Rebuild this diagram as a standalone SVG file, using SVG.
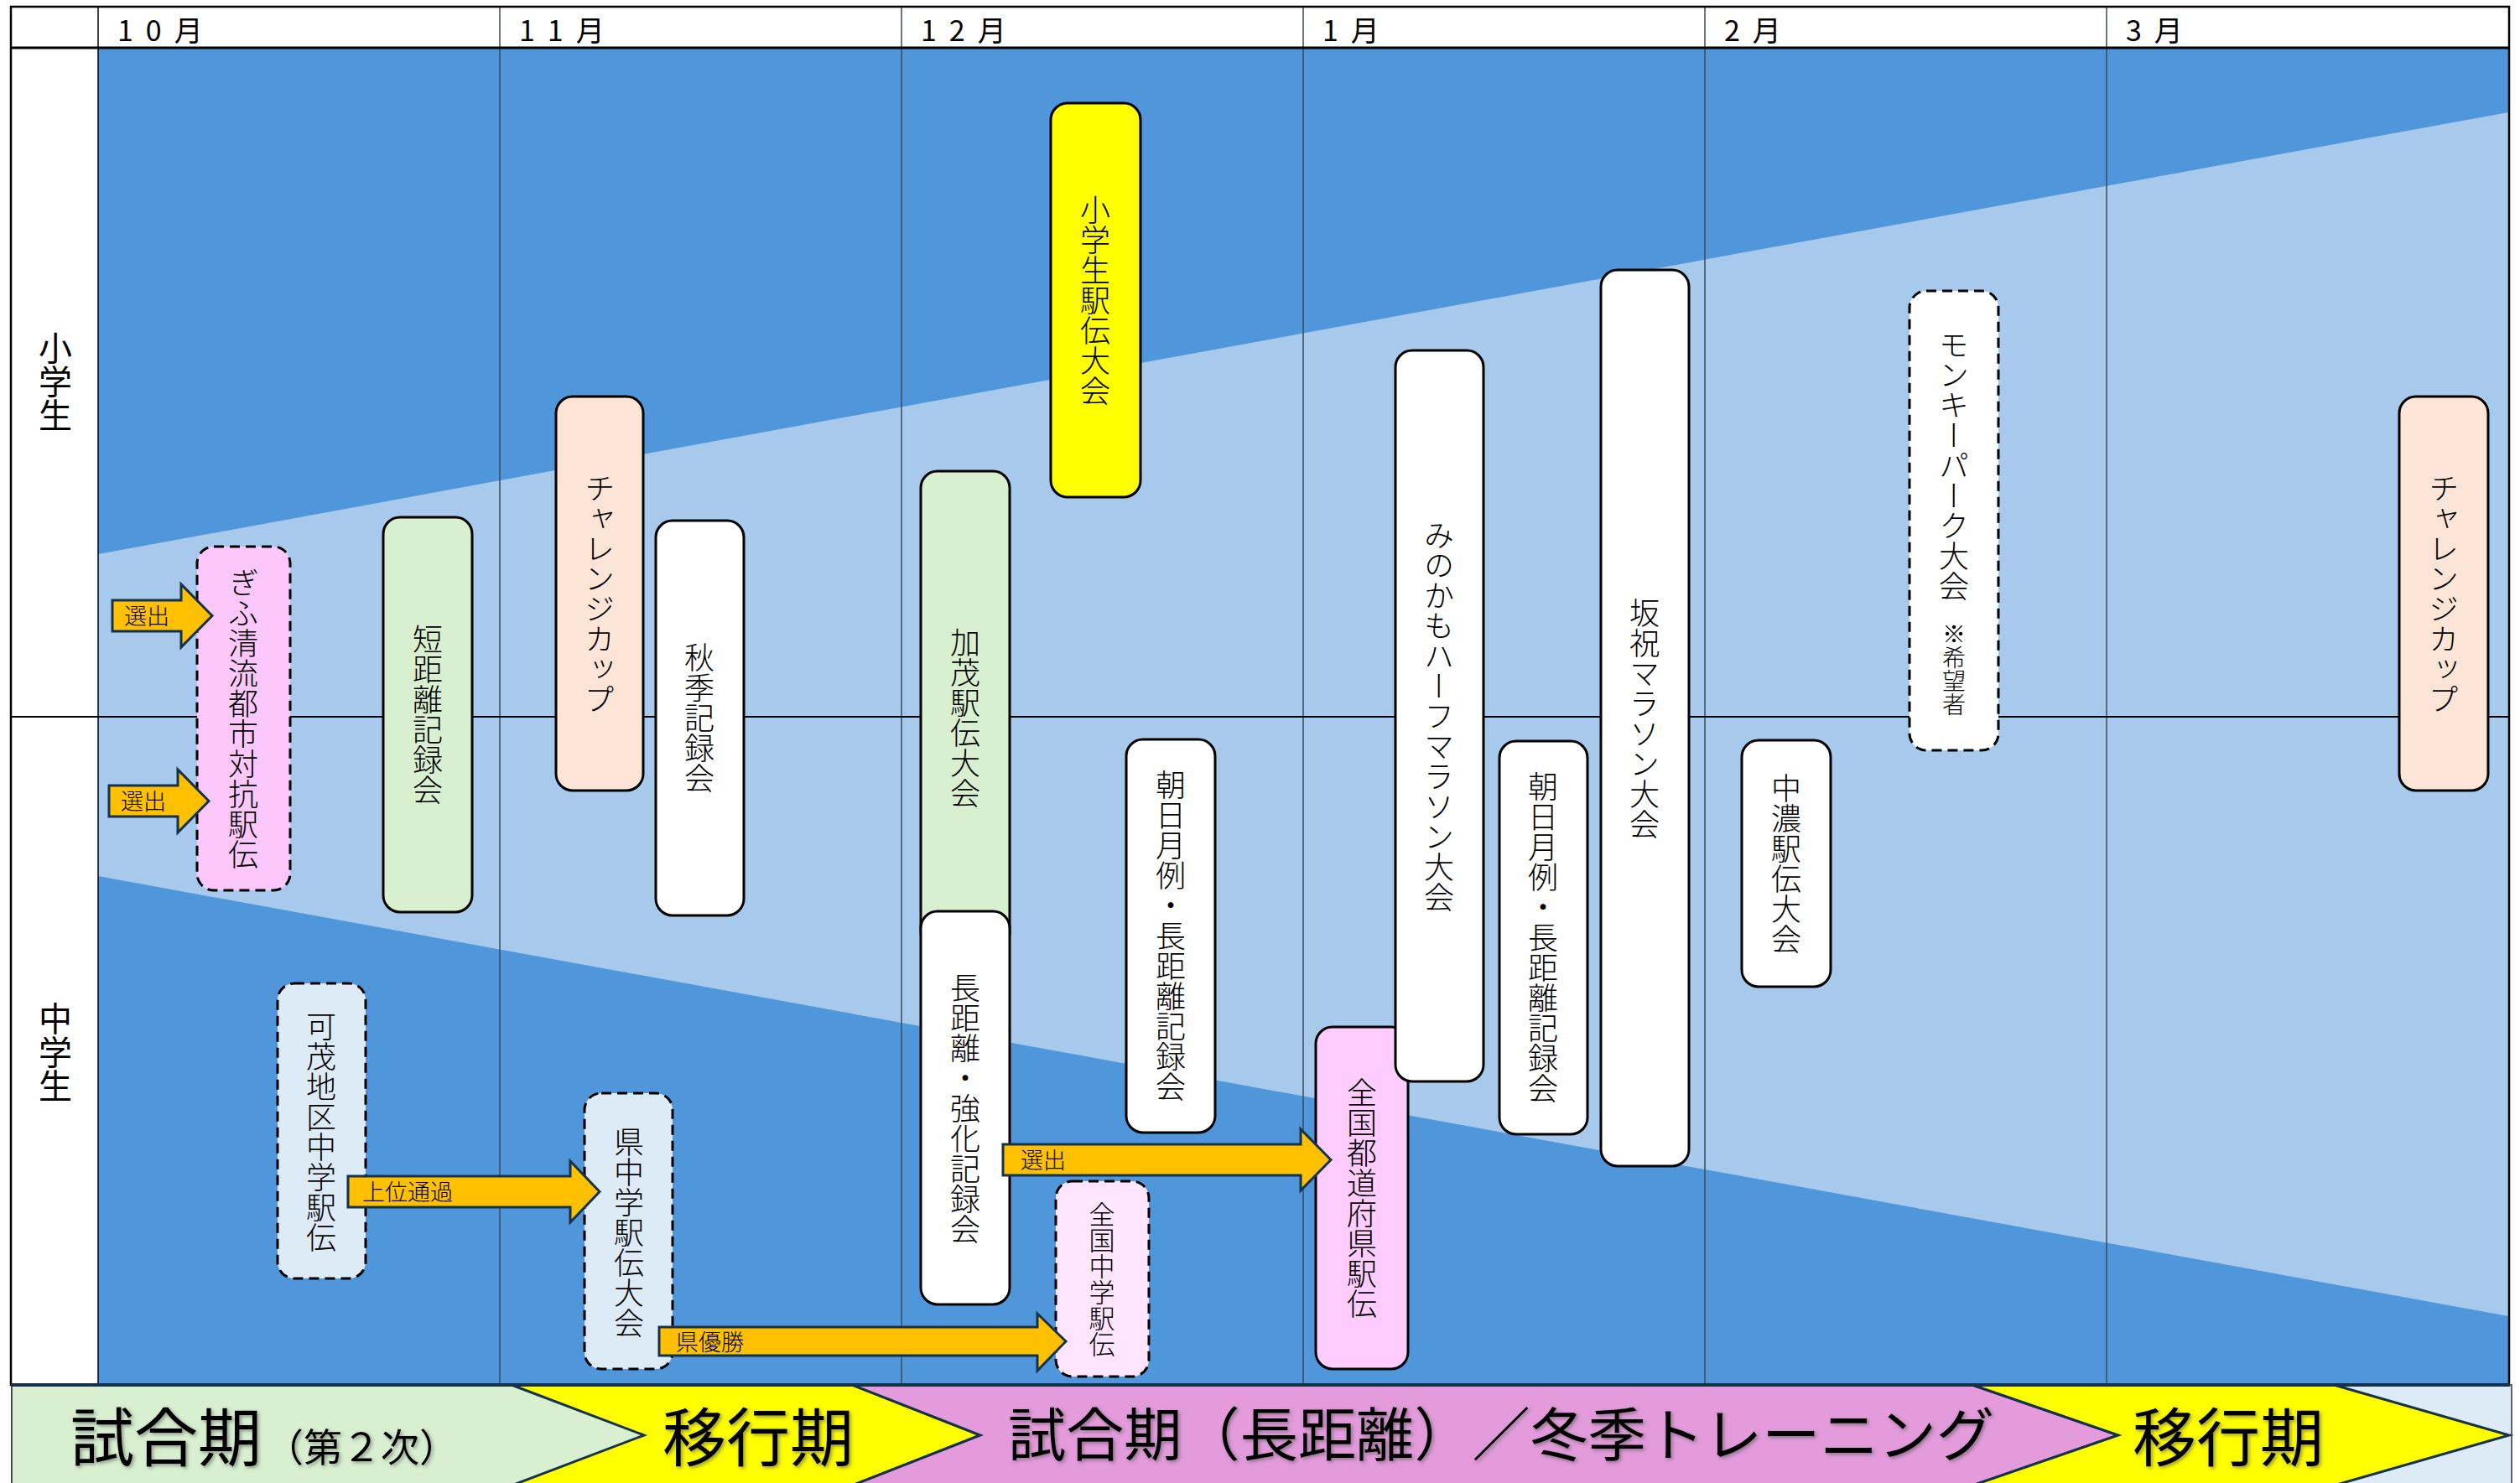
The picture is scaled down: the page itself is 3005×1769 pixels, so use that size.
<svg xmlns="http://www.w3.org/2000/svg" width="3005" height="1769" viewBox="0 0 3005 1769">
<style>
.v{font-family:"Noto Sans CJK JP","Noto Sans CJK SC",sans-serif;font-size:36px;font-weight:300;writing-mode:vertical-rl;text-anchor:middle;fill:#000}
.m{font-family:"Noto Sans CJK JP",sans-serif;font-size:34px;letter-spacing:15px;fill:#000}
.al{font-family:"Noto Sans CJK JP",sans-serif;font-size:27px;font-weight:300;fill:#000}
.band{font-family:"Noto Sans CJK JP",sans-serif;fill:#000}
.box{stroke:#000;stroke-width:3}
.dash{stroke:#000;stroke-width:3;stroke-dasharray:12 7}
.arrow{fill:#FFC000;stroke:#15324A;stroke-width:3;stroke-linejoin:miter}
.col{stroke:#3a4a5a;stroke-width:1.5}
.chev{stroke:#15324A;stroke-width:3}
</style>
<defs>
<filter id="sh" x="-5%" y="-20%" width="110%" height="140%">
<feDropShadow dx="2" dy="2" stdDeviation="2" flood-color="#555" flood-opacity="0.6"/>
</filter>
</defs>
<rect x="0" y="0" width="3005" height="1769" fill="#fff"/>
<g id="background">
<rect x="117" y="57" width="2875" height="1595" fill="#5096DA"/>
<polygon points="117,661 2991,134 2991,1570 117,1045" fill="#A7C9EB"/>
<line class="col" x1="596" y1="8" x2="596" y2="1652"/>
<line class="col" x1="1075" y1="8" x2="1075" y2="1652"/>
<line class="col" x1="1554" y1="8" x2="1554" y2="1652"/>
<line class="col" x1="2033" y1="8" x2="2033" y2="1652"/>
<line class="col" x1="2512" y1="8" x2="2512" y2="1652"/>
<line x1="117" y1="8" x2="117" y2="1652" stroke="#000" stroke-width="1.5"/>
<line x1="13" y1="855" x2="2992" y2="855" stroke="#000" stroke-width="2"/>
<line x1="13" y1="57" x2="2992" y2="57" stroke="#000" stroke-width="3"/>
<rect x="13" y="8" width="2979" height="1644" fill="none" stroke="#000" stroke-width="2.5"/>
</g>
<g id="header">
<text class="m" x="140" y="49">10月</text>
<text class="m" x="619" y="49">11月</text>
<text class="m" x="1098" y="49">12月</text>
<text class="m" x="1577" y="49">1月</text>
<text class="m" x="2056" y="49">2月</text>
<text class="m" x="2535" y="49">3月</text>
<text class="v" x="66" y="455" style="font-size:40px;font-weight:400">小学生</text>
<text class="v" x="66" y="1255" style="font-size:40px;font-weight:400">中学生</text>
</g>
<g id="band">
<rect x="14" y="1652" width="2981" height="120" fill="#DDEBF7" stroke="#333" stroke-width="1.5"/>
<path d="M14,1652 H610 L768,1712 L610,1772 H14 Z" fill="#D8F0D0"/>
<path class="chev" d="M610,1652 H1016 L1169,1712 L1016,1772 H610 L768,1712 Z" fill="#FFFF00"/>
<path class="chev" d="M1016,1652 H2352 L2526,1712 L2352,1772 H1016 L1169,1712 Z" fill="#E39BDB"/>
<path class="chev" d="M2352,1652 H2783 L2992,1712 L2783,1772 H2352 L2526,1712 Z" fill="#FFFF00"/>
<line x1="13" y1="1652" x2="2993" y2="1652" stroke="#15324A" stroke-width="4"/>
<line x1="14" y1="1652" x2="14" y2="1769" stroke="#333" stroke-width="1.5"/>
<g filter="url(#sh)">
<text class="band" x="84" y="1743" style="font-size:76px">試合期<tspan style="font-size:46px" dx="4">（第２次）</tspan></text>
<text class="band" x="904" y="1743" text-anchor="middle" style="font-size:76px">移行期</text>
<text class="band" x="1202" y="1737" style="font-size:69px" textLength="1176" lengthAdjust="spacingAndGlyphs">試合期（長距離）／冬季トレーニング</text>
<text class="band" x="2657" y="1743" text-anchor="middle" style="font-size:76px">移行期</text>
</g>
</g>
<g id="n-gifu"><rect class="dash" x="235" y="652" width="111" height="410" rx="20" fill="#FCC8FC"/><text class="v" x="290" y="857">ぎふ清流都市対抗駅伝</text></g>
<g id="n-tankyori"><rect class="box" x="457" y="617" width="106" height="471" rx="20" fill="#D8F0D0"/><text class="v" x="510" y="852">短距離記録会</text></g>
<g id="n-challenge11"><rect class="box" x="663" y="473" width="104" height="470" rx="20" fill="#FCE4D6"/><text class="v" x="715" y="708">チャレンジカップ</text></g>
<g id="n-shuki"><rect class="box" x="782" y="621" width="105" height="471" rx="20" fill="#FFFFFF"/><text class="v" x="834" y="856">秋季記録会</text></g>
<g id="n-kamo"><rect class="box" x="1098" y="562" width="106" height="570" rx="20" fill="#D8F0D0"/><text class="v" x="1151" y="856">加茂駅伝大会</text></g>
<g id="n-chokyori"><rect class="box" x="1098" y="1087" width="106" height="469" rx="20" fill="#FFFFFF"/><text class="v" x="1151" y="1322">長距離・強化記録会</text></g>
<g id="n-shogaku"><rect class="box" x="1253" y="123" width="107" height="470" rx="20" fill="#FFFF00"/><text class="v" x="1306" y="358">小学生駅伝大会</text></g>
<g id="n-asahi12"><rect class="box" x="1343" y="882" width="106" height="469" rx="20" fill="#FFFFFF"/><text class="v" x="1396" y="1116">朝日月例・長距離記録会</text></g>
<g id="n-zenchu"><rect class="dash" x="1259" y="1409" width="111" height="233" rx="20" fill="#FFE5FF"/><text class="v" x="1314" y="1526" style="font-size:31px">全国中学駅伝</text></g>
<g id="n-zenkoku"><rect class="box" x="1569" y="1225" width="110" height="408" rx="20" fill="#FFCCFF"/><text class="v" x="1624" y="1429">全国都道府県駅伝</text></g>
<g id="n-minokamo"><rect class="box" x="1664" y="418" width="105" height="872" rx="20" fill="#FFFFFF"/><text class="v" x="1716" y="854">みのかもハーフマラソン大会</text></g>
<g id="n-asahi1"><rect class="box" x="1788" y="884" width="105" height="469" rx="20" fill="#FFFFFF"/><text class="v" x="1840" y="1118">朝日月例・長距離記録会</text></g>
<g id="n-sakahogi"><rect class="box" x="1909" y="322" width="105" height="1069" rx="20" fill="#FFFFFF"/><text class="v" x="1961" y="857">坂祝マラソン大会</text></g>
<g id="n-chuno"><rect class="box" x="2077" y="883" width="106" height="294" rx="20" fill="#FFFFFF"/><text class="v" x="2130" y="1030">中濃駅伝大会</text></g>
<g id="n-monkey"><rect class="dash" x="2277" y="347" width="106" height="548" rx="20" fill="#FFFFFF"/><text class="v" x="2330" y="393" style="text-anchor:start">モンキーパーク大会</text><text class="v" x="2330" y="742" style="text-anchor:start;font-size:28px">※希望者</text></g>
<g id="n-kamochiku"><rect class="dash" x="331" y="1173" width="105" height="352" rx="20" fill="#DDEBF7"/><text class="v" x="383" y="1350">可茂地区中学駅伝</text></g>
<g id="n-kenchu"><rect class="dash" x="697" y="1304" width="105" height="329" rx="20" fill="#DDEBF7"/><text class="v" x="750" y="1470">県中学駅伝大会</text></g>
<g id="n-challenge3"><rect class="box" x="2861" y="473" width="106" height="470" rx="20" fill="#FCE4D6"/><text class="v" x="2914" y="708">チャレンジカップ</text></g>
<g id="connectors">
<path class="arrow" d="M134,716 H216 V697 L253,734.5 L216,772 V753 H134 Z"/>
<text class="al" x="148" y="745">選出</text>
<path class="arrow" d="M130,937 H212 V918 L249,955.5 L212,993 V974 H130 Z"/>
<text class="al" x="144" y="966">選出</text>
<path class="arrow" d="M415,1403 H680 V1385 L715,1421.5 L680,1458 V1440 H415 Z"/>
<text class="al" x="432" y="1432">上位通過</text>
<path class="arrow" d="M786,1583 H1237 V1567 L1271,1600 L1237,1635 V1617 H786 Z"/>
<text class="al" x="806" y="1611">県優勝</text>
<path class="arrow" d="M1196,1365 H1551 V1347 L1587,1383.5 L1551,1420 V1402 H1196 Z"/>
<text class="al" x="1217" y="1394">選出</text>
</g>
</svg>
